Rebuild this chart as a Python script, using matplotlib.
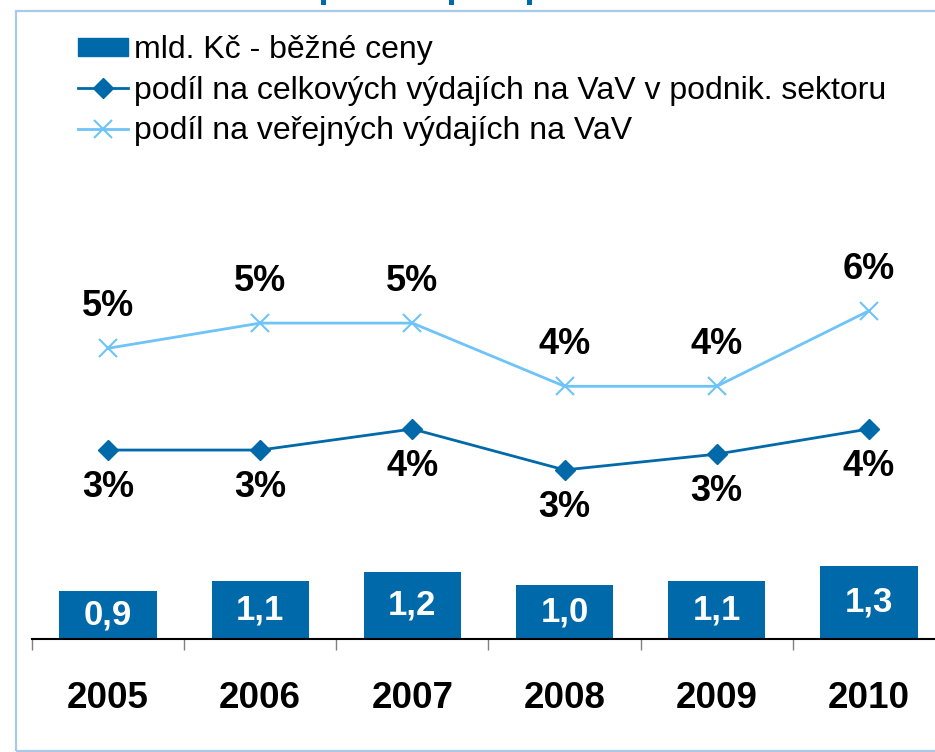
import matplotlib
matplotlib.use("Agg")
import matplotlib.pyplot as plt
from matplotlib.patches import Rectangle
from matplotlib.lines import Line2D

plt.rcParams['font.family'] = ['Liberation Sans', 'DejaVu Sans']

years = ["2005", "2006", "2007", "2008", "2009", "2010"]
spend_bn = [0.88, 1.06, 1.22, 0.99, 1.06, 1.33]
share_business = [3.23, 3.23, 3.59, 2.89, 3.16, 3.59]
share_public = [4.97, 5.40, 5.40, 4.32, 4.32, 5.61]

bar_label = "mld. Kč - běžné ceny"
biz_label = "podíl na celkových výdajích na VaV v podnik. sektoru"
pub_label = "podíl na veřejných výdajích na VaV"

DARK = "#0069AA"
LIGHT = "#6EC3F8"
W, H = 935, 752

fig = plt.figure(figsize=(W / 100, H / 100), dpi=100)
fig.patch.set_facecolor("white")

# axes placement in pixel terms
left, right, bottom, top = 32, 945, 639, 150
ax = fig.add_axes([left / W, (H - bottom) / H, (right - left) / W, (bottom - top) / H])
ax2 = ax.twinx()

x = list(range(len(years)))
bars = ax.bar(x, spend_bn, width=0.64, color=DARK, zorder=2)
ax.bar_label(bars, labels=[f"{v:.1f}".replace(".", ",") for v in spend_bn],
             label_type="center", color="white", fontweight="bold", fontsize=25)

ax.set_xlim(-0.5, len(years) - 0.5)
ax.set_ylim(0, (bottom - top) / 55)
ax2.set_ylim(0, (bottom - top) / 58.5)

ax2.plot(x, share_business, color=DARK, lw=2.0, marker="D", ms=10, zorder=3)
ax2.plot(x, share_public, color=LIGHT, lw=2.0, marker="x", ms=13, mew=1.5, zorder=3)

for xi, v in zip(x, share_business):
    ax2.annotate(f"{round(v):.0f}%", (xi, v), xytext=(0, -27), textcoords="offset points",
                 ha="center", va="center", fontsize=26, fontweight="bold")
for xi, v in zip(x, share_public):
    ax2.annotate(f"{round(v):.0f}%", (xi, v), xytext=(0, 30), textcoords="offset points",
                 ha="center", va="center", fontsize=26, fontweight="bold")

for a in (ax, ax2):
    for s in ("left", "right", "top"):
        a.spines[s].set_visible(False)
    a.set_yticks([])
ax2.spines["bottom"].set_visible(False)
ax.spines["bottom"].set_color("black")
ax.spines["bottom"].set_linewidth(1.5)

ax.set_xticks(x)
ax.set_xticklabels(years, fontsize=26.5, fontweight="bold")
ax.tick_params(axis="x", which="major", length=0, pad=30)
ax.set_xticks([i - 0.5 for i in range(len(years) + 1)], minor=True)
ax.tick_params(axis="x", which="minor", length=8, color="#808080", width=1)

handles = [
    Rectangle((0, 0), 1, 1, color=DARK),
    Line2D([], [], color=DARK, lw=2.0, marker="D", ms=10),
    Line2D([], [], color=LIGHT, lw=2.0, marker="x", ms=13, mew=1.5),
]
fig.legend(handles, [bar_label, biz_label, pub_label], loc="upper left",
           bbox_to_anchor=(78 / W, 1 - 35 / H), frameon=False, fontsize=23,
           handlelength=1.56, handletextpad=0.18, labelspacing=0.33, borderpad=0,
           borderaxespad=0, handleheight=0.5)

# frame of the slide panel
fig.add_artist(Rectangle((16 / W, 1 / H), 1.0, (H - 12) / H, transform=fig.transFigure,
                         fill=False, edgecolor="#A9C9E6", lw=1.6))
# descenders of the cut-off title above
for px in (321, 449, 527):
    fig.add_artist(Rectangle((px / W, 1 - 5 / H), 5 / W, 5 / H, transform=fig.transFigure,
                             color=DARK, lw=0))

fig.savefig("out.png", dpi=100)
